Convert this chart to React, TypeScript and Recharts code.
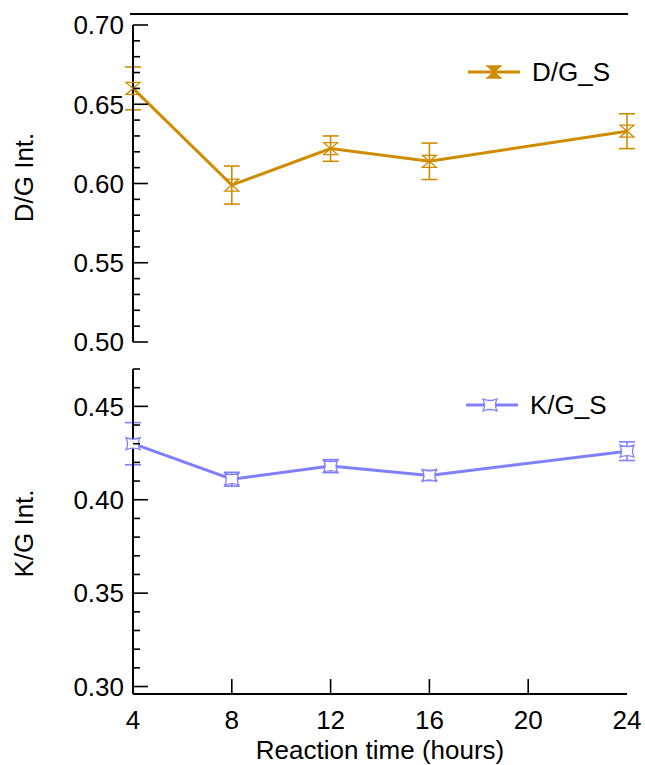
import { LineChart, Line, XAxis, YAxis, ErrorBar, Legend } from 'recharts';

const hours = [4, 8, 12, 16, 24];
const dgValues = [0.660, 0.599, 0.622, 0.614, 0.633];
const dgErrors = [0.0135, 0.012, 0.008, 0.0115, 0.011];
const kgValues = [0.430, 0.411, 0.418, 0.413, 0.426];
const kgErrors = [0.0113, 0.0037, 0.0035, 0.0027, 0.005];

const xTicks = [4, 8, 12, 16, 20, 24];
const dgTicks = [0.50, 0.51, 0.52, 0.53, 0.54, 0.55, 0.56, 0.57, 0.58, 0.59, 0.60, 0.61, 0.62, 0.63, 0.64, 0.65, 0.66, 0.67, 0.68, 0.69, 0.70];
const kgTicks = [0.30, 0.31, 0.32, 0.33, 0.34, 0.35, 0.36, 0.37, 0.38, 0.39, 0.40, 0.41, 0.42, 0.43, 0.44, 0.45, 0.46, 0.47];

const DG_COLOR = '#D08C00';
const KG_COLOR = '#8080FF';
const FONT = '"Liberation Sans", Arial, sans-serif';
const FONT_SIZE = 26;

const dgData = hours.map((h, i) => ({ hour: h, dg: dgValues[i], dgErr: dgErrors[i] }));
const kgData = hours.map((h, i) => ({ hour: h, kg: kgValues[i], kgErr: kgErrors[i] }));

const Y_MARGIN = 9;
const X_MARGIN = 16;

function YTick(props: any) {
    const { x, y, payload } = props;
    const v = payload.value as number;
    const major = Math.round(v * 100) % 5 === 0;
    const ax = x + Y_MARGIN;
    return (
        <g>
            <line x1={ax} x2={ax + (major ? 15 : 7)} y1={y} y2={y} stroke="#000" strokeWidth={1.6} />
            {major && (
                <text x={x} y={y} dy="0.36em" textAnchor="end" fontSize={FONT_SIZE} fontFamily={FONT} fill="#000">
                    {v.toFixed(2)}
                </text>
            )}
        </g>
    );
}

function XTick(props: any) {
    const { x, y, payload, index } = props;
    const ay = y - X_MARGIN;
    const inner = index > 0 && index < xTicks.length - 1;
    return (
        <g>
            {inner && <line x1={x} x2={x} y1={ay} y2={ay - 15} stroke="#000" strokeWidth={1.6} />}
            <text x={x} y={y} dy="0.72em" textAnchor="middle" fontSize={FONT_SIZE} fontFamily={FONT} fill="#000">
                {payload.value}
            </text>
        </g>
    );
}

const yLabel = (text: string, shift: number) => (props: any) => {
    const vb = props.viewBox;
    const cx = 33;
    const cy = vb.y + vb.height / 2 + shift;
    return (
        <text x={cx} y={cy} textAnchor="middle" transform={`rotate(-90, ${cx}, ${cy})`} fontSize={FONT_SIZE} fontFamily={FONT} fill="#000">
            {text}
        </text>
    );
};

function Hourglass({ cx, cy, color, filled }: { cx: number; cy: number; color: string; filled?: boolean }) {
    return (
        <path
            d={`M${cx - 7},${cy - 6} L${cx + 7},${cy - 6} L${cx - 7},${cy + 6} L${cx + 7},${cy + 6} Z`}
            fill={filled ? color : 'none'}
            stroke={color}
            strokeWidth={1.3}
        />
    );
}

function Cushion({ cx, cy, color }: { cx: number; cy: number; color: string }) {
    return (
        <path
            d={`M${cx - 7},${cy - 6} Q${cx},${cy - 3} ${cx + 7},${cy - 6} Q${cx + 4},${cy} ${cx + 7},${cy + 6} Q${cx},${cy + 3} ${cx - 7},${cy + 6} Q${cx - 4},${cy} ${cx - 7},${cy - 6} Z`}
            fill="#fff"
            stroke={color}
            strokeWidth={1.3}
        />
    );
}

const legendContent = (kind: 'dg' | 'kg') => (props: any) => {
    const entry = props.payload && props.payload[0];
    if (!entry) return null;
    const color = kind === 'dg' ? DG_COLOR : KG_COLOR;
    return (
        <div style={{ display: 'flex', alignItems: 'center' }}>
            <svg width={54} height={20}>
                <line x1={1} x2={53} y1={10} y2={10} stroke={color} strokeWidth={3} />
                {kind === 'dg' ? <Hourglass cx={27} cy={10} color={color} filled /> : <Cushion cx={25} cy={10} color={color} />}
            </svg>
            <span style={{ marginLeft: 11, fontSize: FONT_SIZE, fontFamily: FONT, color: '#000', lineHeight: '30px' }}>
                {entry.value}
            </span>
        </div>
    );
};

export default function App() {
    return (
        <div style={{ position: 'absolute', left: 0, top: 0, width: 645, height: 765, background: '#fff' }}>
            <div style={{ position: 'absolute', left: 130, top: 13, width: 498, borderTop: '2px solid #000' }} />
            <div style={{ position: 'absolute', left: 0, top: 0 }}>
                <LineChart width={645} height={360} data={dgData} margin={{ top: 25, right: 18, bottom: 18, left: 0 }}>
                    <XAxis dataKey="hour" type="number" domain={[4, 24]} hide />
                    <YAxis
                        yAxisId="l"
                        domain={[0.5, 0.7]}
                        ticks={dgTicks}
                        interval={0}
                        width={133}
                        tickLine={false}
                        tickSize={0}
                        tickMargin={Y_MARGIN}
                        tick={<YTick />}
                        axisLine={{ stroke: '#000', strokeWidth: 2 }}
                        label={{ content: yLabel('D/G Int.', -6) }}
                    />
                    <YAxis yAxisId="r" orientation="right" width={0} domain={[0.5, 0.7]} tick={false} tickLine={false} axisLine={{ stroke: '#000', strokeWidth: 2 }} />
                    <Legend
                        layout="vertical"
                        align="center"
                        verticalAlign="middle"
                        content={legendContent('dg')}
                        wrapperStyle={{ left: 467, top: 57, width: 170 }}
                    />
                    <Line
                        yAxisId="l"
                        name="D/G_S"
                        dataKey="dg"
                        type="linear"
                        stroke={DG_COLOR}
                        strokeWidth={3}
                        isAnimationActive={false}
                        dot={(p: any) => <Hourglass key={p.index} cx={p.cx} cy={p.cy} color={DG_COLOR} />}
                        activeDot={false}
                    >
                        <ErrorBar dataKey="dgErr" direction="y" width={8} stroke={DG_COLOR} strokeWidth={1.6} isAnimationActive={false} />
                    </Line>
                </LineChart>
            </div>
            <div style={{ position: 'absolute', left: 0, top: 360 }}>
                <LineChart width={645} height={405} data={kgData} margin={{ top: 9, right: 18, bottom: 0, left: 0 }}>
                    <XAxis
                        dataKey="hour"
                        type="number"
                        domain={[4, 24]}
                        ticks={xTicks}
                        interval={0}
                        height={71}
                        tickLine={false}
                        tickSize={0}
                        tickMargin={X_MARGIN}
                        tick={<XTick />}
                        axisLine={{ stroke: '#000', strokeWidth: 2 }}
                        label={{ value: 'Reaction time (hours)', position: 'insideBottom', offset: 6, fontSize: FONT_SIZE, fontFamily: FONT, fill: '#000' }}
                    />
                    <YAxis
                        yAxisId="l"
                        domain={[0.296, 0.47]}
                        ticks={kgTicks}
                        interval={0}
                        width={133}
                        tickLine={false}
                        tickSize={0}
                        tickMargin={Y_MARGIN}
                        tick={<YTick />}
                        axisLine={{ stroke: '#000', strokeWidth: 2 }}
                        allowDataOverflow
                        label={{ content: yLabel('K/G Int.', 2) }}
                    />
                    <YAxis yAxisId="r" orientation="right" width={0} domain={[0.296, 0.47]} tick={false} tickLine={false} axisLine={{ stroke: '#000', strokeWidth: 2 }} />
                    <Legend
                        layout="vertical"
                        align="center"
                        verticalAlign="middle"
                        content={legendContent('kg')}
                        wrapperStyle={{ left: 465, top: 30, width: 170 }}
                    />
                    <Line
                        yAxisId="l"
                        name="K/G_S"
                        dataKey="kg"
                        type="linear"
                        stroke={KG_COLOR}
                        strokeWidth={3}
                        isAnimationActive={false}
                        dot={(p: any) => <Cushion key={p.index} cx={p.cx} cy={p.cy} color={KG_COLOR} />}
                        activeDot={false}
                    >
                        <ErrorBar dataKey="kgErr" direction="y" width={8} stroke={KG_COLOR} strokeWidth={1.6} isAnimationActive={false} />
                    </Line>
                </LineChart>
            </div>
        </div>
    );
}
